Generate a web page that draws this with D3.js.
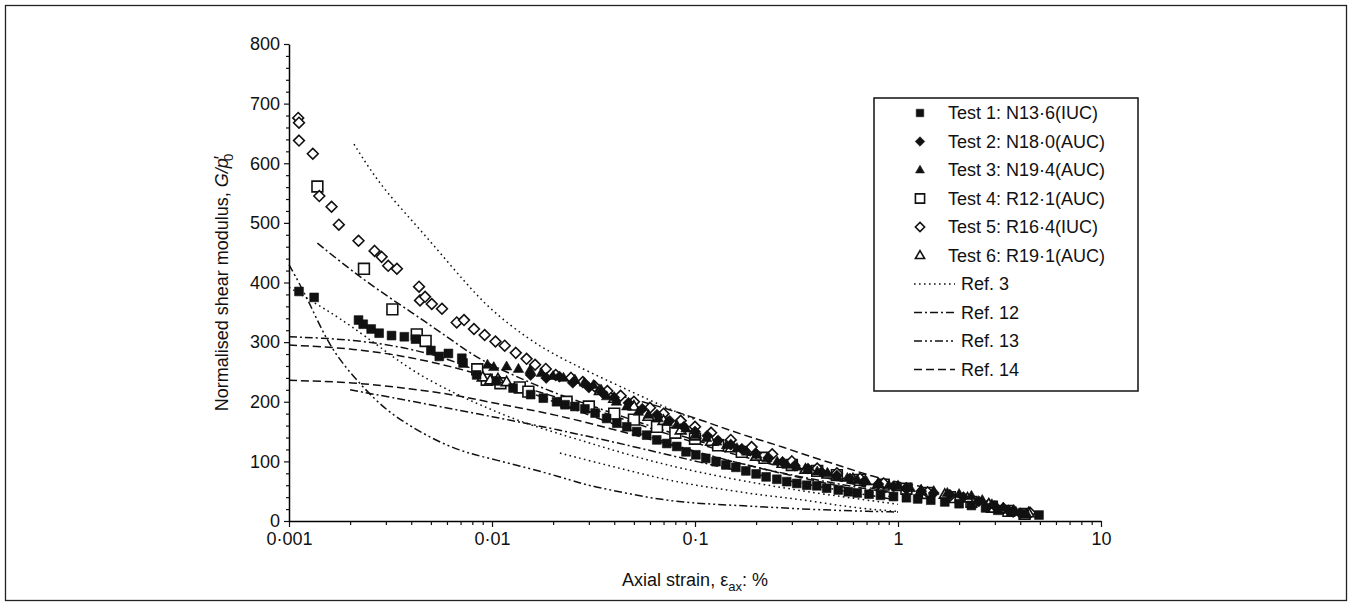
<!DOCTYPE html>
<html>
<head>
<meta charset="utf-8">
<script src="https://cdn.jsdelivr.net/npm/d3@7"></script>
<style>
  html, body { margin: 0; padding: 0; background: #fff; }
  svg { display: block; font-family: "Liberation Sans", Arial, sans-serif; }
</style>
</head>
<body>
<svg id="chart" width="1352" height="606"></svg>
<script>
// Axis settings
const xTickValues = [0.001, 0.01, 0.1, 1, 10];
const xTickLabels = ["0·001", "0·01", "0·1", "1", "10"];
const yTickValues = [0, 100, 200, 300, 400, 500, 600, 700, 800];

// Test data: [axial strain %, G/p'0]
const test1 = [[0.00112,385],[0.00133,375],[0.0022,337],[0.00232,330],[0.00254,322],[0.00278,315],[0.0032,311],[0.0037,309],[0.0042,305],[0.005,286],[0.0055,276],[0.0061,281],[0.0071,273],[0.0072,265],[0.0084,245],[0.0105,235],[0.0127,223],[0.0155,212],[0.0179,206],[0.0208,200],[0.0229,195],[0.0256,192],[0.0287,188],[0.0322,181],[0.0367,172],[0.0412,164],[0.0461,158],[0.0516,150],[0.0578,144],[0.0648,136],[0.0726,130],[0.0813,125],[0.0903,116],[0.101,111],[0.113,105],[0.127,99.5],[0.142,94],[0.159,90],[0.178,84],[0.2,79],[0.224,74],[0.253,70],[0.283,66],[0.317,63],[0.355,60],[0.398,59],[0.445,55],[0.508,52],[0.569,49],[0.63,47],[0.72,45],[0.82,43],[0.95,41],[1.1,39],[1.25,37],[1.45,35],[1.7,32],[2.0,29],[2.3,26],[2.7,22],[3.1,18],[3.6,15],[4.2,12],[4.95,10]];
const test2 = [[0.0155,245],[0.0185,240],[0.0215,242],[0.025,232],[0.03,224],[0.035,215],[0.04,207],[0.047,198],[0.055,188],[0.065,178],[0.075,168],[0.088,158],[0.1,150],[0.115,143],[0.13,135],[0.15,128],[0.17,121],[0.2,113],[0.23,106],[0.27,99],[0.31,93],[0.36,88],[0.42,82],[0.5,76],[0.58,71],[0.68,66],[0.8,62],[0.95,58],[1.1,54],[1.3,50],[1.5,47],[1.8,44],[2.1,40],[2.5,33],[3.0,25],[3.5,18],[4.0,13]];
const test3 = [[0.0095,262],[0.0102,258],[0.0118,259],[0.0135,255],[0.0154,253],[0.0175,248],[0.02,243],[0.0225,240],[0.0256,237],[0.0285,232],[0.0316,228],[0.0345,220],[0.0367,209],[0.041,200],[0.0461,192],[0.0526,183],[0.059,178],[0.0659,172],[0.073,166],[0.0813,161],[0.0903,155],[0.1016,144],[0.114,139],[0.128,133],[0.143,127],[0.161,122],[0.18,116],[0.202,111],[0.226,105],[0.254,99.5],[0.284,94],[0.318,91],[0.357,86],[0.4,83],[0.448,80],[0.502,74],[0.563,72],[0.631,69],[0.7,66],[0.8,63],[0.9,60],[1.0,58],[1.15,55],[1.3,52],[1.5,50],[1.75,47],[2.0,45],[2.3,42],[2.6,35],[2.9,28],[3.3,22],[3.8,16],[4.3,12]];
const test4 = [[0.00138,561],[0.00234,423],[0.00323,355],[0.00426,313],[0.00471,302],[0.00846,254.5],[0.00942,237],[0.011,231],[0.0137,224],[0.0151,217],[0.0233,200],[0.03,192],[0.04,180],[0.05,170],[0.065,158],[0.08,148],[0.1,138],[0.13,127],[0.17,116],[0.22,106],[0.3,94],[0.4,84],[0.5,77],[0.65,69],[0.85,61],[1.1,54],[1.4,47],[1.8,40],[2.3,32],[2.9,24],[3.5,17],[4.2,12]];
const test5 = [[0.00111,676],[0.00112,668],[0.00112,638],[0.00131,616],[0.00141,545],[0.00162,527],[0.00176,497],[0.0022,470],[0.00264,453],[0.00286,443],[0.00308,428],[0.0034,423],[0.00437,393],[0.00442,370],[0.00468,376],[0.00505,364],[0.00567,356],[0.0067,333],[0.00728,337],[0.00815,322],[0.0092,312],[0.0104,301],[0.01155,294],[0.0131,282],[0.0148,272],[0.0163,262],[0.0184,255],[0.0206,245],[0.0245,240],[0.028,233],[0.032,226],[0.037,218],[0.043,210],[0.05,200],[0.06,190],[0.07,180],[0.085,168],[0.1,158],[0.12,148],[0.15,136],[0.19,124],[0.24,112],[0.3,100],[0.4,88],[0.5,80],[0.65,71],[0.85,63],[1.1,55],[1.4,48],[1.8,42],[2.3,34],[2.8,27],[3.3,21],[3.69,16],[4.47,14]];
const test6 = [[0.009,241],[0.0098,236],[0.0107,238],[0.0118,233],[0.034,218],[0.04,205],[0.05,192],[0.059,175],[0.07,168],[0.085,152],[0.1,142],[0.12,133],[0.15,122],[0.2,108],[0.27,96],[0.35,86],[0.45,78],[0.6,70],[0.8,62],[1.0,57],[1.3,50],[1.7,44],[2.2,38],[2.8,28],[3.3,20],[3.7,16],[4.4,13]];

// Published reference curves (several curves per reference)
const ref3 = [
  [[0.00209,632],[0.0025,590],[0.003,553],[0.004,505],[0.005,468],[0.0075,397],[0.01,352],[0.015,306],[0.02,280],[0.03,250],[0.05,215],[0.07,192],[0.1,170]],
  [[0.001,392],[0.0013,368],[0.0016,350],[0.002,328],[0.0028,292],[0.0041,250],[0.0067,212],[0.01,186],[0.015,162],[0.027,136],[0.05,108],[0.1,82],[0.3,52],[1,28]],
  [[0.0216,114],[0.0315,99.5],[0.046,85.6],[0.067,71.6],[0.098,60.4],[0.1433,52],[0.21,43.6],[0.3,38],[0.44,29.7],[0.64,21.3],[1,16]]
];
const ref12 = [
  [[0.00138,466],[0.00232,404],[0.0041,348],[0.006,309],[0.0087,270],[0.0127,245],[0.02,215],[0.03,195],[0.05,168],[0.1,135],[0.3,90],[1,52]],
  [[0.001,309],[0.002,305],[0.004,290],[0.007,265],[0.01,240],[0.02,200],[0.05,150],[0.1,115],[0.3,75],[1,45]],
  [[0.002,220],[0.005,195],[0.01,175],[0.02,155],[0.05,125],[0.1,100],[0.3,65],[1,35]]
];
const ref13 = [
  [[0.001,430],[0.00125,370],[0.0016,287],[0.0023,225],[0.003,186],[0.004,158],[0.0055,132],[0.0075,114],[0.0106,102],[0.0154,88],[0.0216,74],[0.027,64],[0.0314,58],[0.046,46.5],[0.067,36],[0.098,30],[0.143,27],[0.21,24],[0.3,21],[0.44,18.5],[0.6,17],[1,15]]
];
const ref14 = [
  [[0.001,295],[0.002,290],[0.004,275],[0.007,255],[0.01,240],[0.02,210],[0.05,165],[0.1,130],[0.3,85],[1,45]],
  [[0.001,236],[0.002,233],[0.004,222],[0.007,210],[0.01,198],[0.02,180],[0.05,145],[0.1,115],[0.3,75],[1,38]],
  [[0.025,235],[0.0381,214],[0.0556,200],[0.0813,183],[0.1187,164],[0.173,144],[0.2535,127.5],[0.37,108],[0.538,91],[0.756,74],[1.0,65],[1.3,58]]
];

const legendNames = ["Test 1: N13·6(IUC)", "Test 2: N18·0(AUC)", "Test 3: N19·4(AUC)", "Test 4: R12·1(AUC)", "Test 5: R16·4(IUC)", "Test 6: R19·1(AUC)", "Ref. 3", "Ref. 12", "Ref. 13", "Ref. 14"];

const svg = d3.select("#chart");
const W = 1352, H = 606;

// Figure frame
svg.append("rect").attr("x", 5.5).attr("y", 5.5).attr("width", W - 11).attr("height", H - 11)
  .attr("fill", "none").attr("stroke", "#222").attr("stroke-width", 1.3);

const x = d3.scaleLog().domain([0.001, 10]).range([289, 1101]);
const y = d3.scaleLinear().domain([0, 800]).range([521, 44]);

// Line styles
const dashes = {
  ref3: "1.6,3.4",
  ref12: "8,3,2,3",
  ref13: "8,3,2,3,2,3",
  ref14: "8,4"
};
const line = d3.line().x(d => x(d[0])).y(d => y(d[1])).curve(d3.curveBasis);

const gLines = svg.append("g").attr("fill", "none").attr("stroke", "#111").attr("stroke-width", 1.5);
[[ref3, dashes.ref3], [ref12, dashes.ref12], [ref13, dashes.ref13], [ref14, dashes.ref14]].forEach(([set, dash]) => {
  set.forEach(c => {
    gLines.append("path").attr("d", line(c)).attr("stroke-dasharray", dash);
  });
});

// Marker shapes (half-size r in px)
function shapePath(shape, r) {
  if (shape === "square") return `M${-r},${-r}H${r}V${r}H${-r}Z`;
  if (shape === "diamond") return `M0,${-r}L${r},0L0,${r}L${-r},0Z`;
  const h = r * 1.732;
  return `M0,${-h * 0.62}L${r},${h * 0.38}L${-r},${h * 0.38}Z`;
}
const markerDefs = [
  { data: test1, shape: "square", r: 4.4, fill: "#111", open: false },
  { data: test2, shape: "diamond", r: 5.6, fill: "#111", open: false },
  { data: test3, shape: "triangle", r: 5.2, fill: "#111", open: false },
  { data: test4, shape: "square", r: 5.4, fill: "#fff", open: true },
  { data: test5, shape: "diamond", r: 5.4, fill: "#fff", open: true },
  { data: test6, shape: "triangle", r: 5.4, fill: "#fff", open: true }
];

function drawMarker(g, m, px, py, scale) {
  g.append("path")
    .attr("d", shapePath(m.shape, m.r * (scale || 1)))
    .attr("transform", `translate(${px},${py})`)
    .attr("fill", m.fill)
    .attr("stroke", "#111")
    .attr("stroke-width", m.open ? 1.6 : 0.6)
    .attr("stroke-linejoin", "miter");
}

const gPts = svg.append("g");
// open markers first, filled markers on top
[3, 4, 5, 0, 1, 2].forEach(i => {
  const m = markerDefs[i];
  m.data.forEach(d => drawMarker(gPts, m, x(d[0]), y(d[1])));
});

// X axis
const xMinor = [];
for (let e = -3; e < 1; e++) for (let k = 2; k <= 9; k++) xMinor.push(k * Math.pow(10, e));
const gx = svg.append("g").attr("transform", `translate(0,${y(0)})`);
gx.call(d3.axisBottom(x).tickValues(xTickValues).tickFormat((d, i) => xTickLabels[i]).tickSize(6).tickSizeOuter(0));
gx.call(g => g.select(".domain").attr("stroke-width", 1.5));
svg.append("g").attr("transform", `translate(0,${y(0)})`)
  .call(d3.axisBottom(x).tickValues(xMinor).tickFormat("").tickSize(4).tickSizeOuter(0))
  .call(g => g.select(".domain").remove());

// Y axis
const yMinor = d3.range(0, 801, 20).filter(v => v % 100 !== 0);
const gy = svg.append("g").attr("transform", `translate(${x(0.001)},0)`);
gy.call(d3.axisLeft(y).tickValues(yTickValues).tickSize(5).tickSizeOuter(0));
gy.call(g => g.select(".domain").attr("stroke-width", 1.5));
svg.append("g").attr("transform", `translate(${x(0.001)},0)`)
  .call(d3.axisLeft(y).tickValues(yMinor).tickFormat("").tickSize(3).tickSizeOuter(0))
  .call(g => g.select(".domain").remove());

svg.selectAll(".tick text").attr("font-size", 18).attr("font-family", "Liberation Sans, Arial, sans-serif").attr("fill", "#111");
svg.selectAll(".tick line").attr("stroke", "#111").attr("stroke-width", 1.2);
gy.selectAll(".tick text").attr("x", -9);
gx.selectAll(".tick text").attr("y", 11);

// Axis titles
const xt = svg.append("text").attr("x", x(0.1)).attr("y", 586).attr("text-anchor", "middle")
  .attr("font-size", 18).attr("fill", "#111");
xt.append("tspan").text("Axial strain, ε");
xt.append("tspan").attr("font-size", 13).attr("dy", 5).text("ax");
xt.append("tspan").attr("dy", -5).text(": %");

const yt = svg.append("text")
  .attr("transform", `translate(228,${(y(0) + y(800)) / 2}) rotate(-90)`)
  .attr("text-anchor", "middle").attr("font-size", 18).attr("fill", "#111");
yt.append("tspan").text("Normalised shear modulus, ");
yt.append("tspan").attr("font-style", "italic").text("G/p");
yt.append("tspan").attr("dx", -1).attr("dy", -1).text("′");
yt.append("tspan").attr("font-size", 13).attr("dx", -5).attr("dy", 6).text("0");

// Legend
const lg = svg.append("g");
lg.append("rect").attr("x", 874).attr("y", 98).attr("width", 264).attr("height", 293)
  .attr("fill", "#fff").attr("stroke", "#111").attr("stroke-width", 1.5);
const rowY = i => 113 + i * 28.5;
legendNames.forEach((name, i) => {
  const cy = rowY(i);
  if (i < 6) {
    drawMarker(lg, markerDefs[i], 920, cy, 0.85);
    lg.append("text").attr("x", 948).attr("y", cy).attr("dy", "0.35em")
      .attr("font-size", 18).attr("fill", "#111").text(name);
  } else {
    const dash = [dashes.ref3, dashes.ref12, dashes.ref13, dashes.ref14][i - 6];
    lg.append("line").attr("x1", 914).attr("x2", 955).attr("y1", cy).attr("y2", cy)
      .attr("stroke", "#111").attr("stroke-width", 1.5).attr("stroke-dasharray", dash);
    lg.append("text").attr("x", 961).attr("y", cy).attr("dy", "0.35em")
      .attr("font-size", 18).attr("fill", "#111").text(name);
  }
});
</script>
</body>
</html>
